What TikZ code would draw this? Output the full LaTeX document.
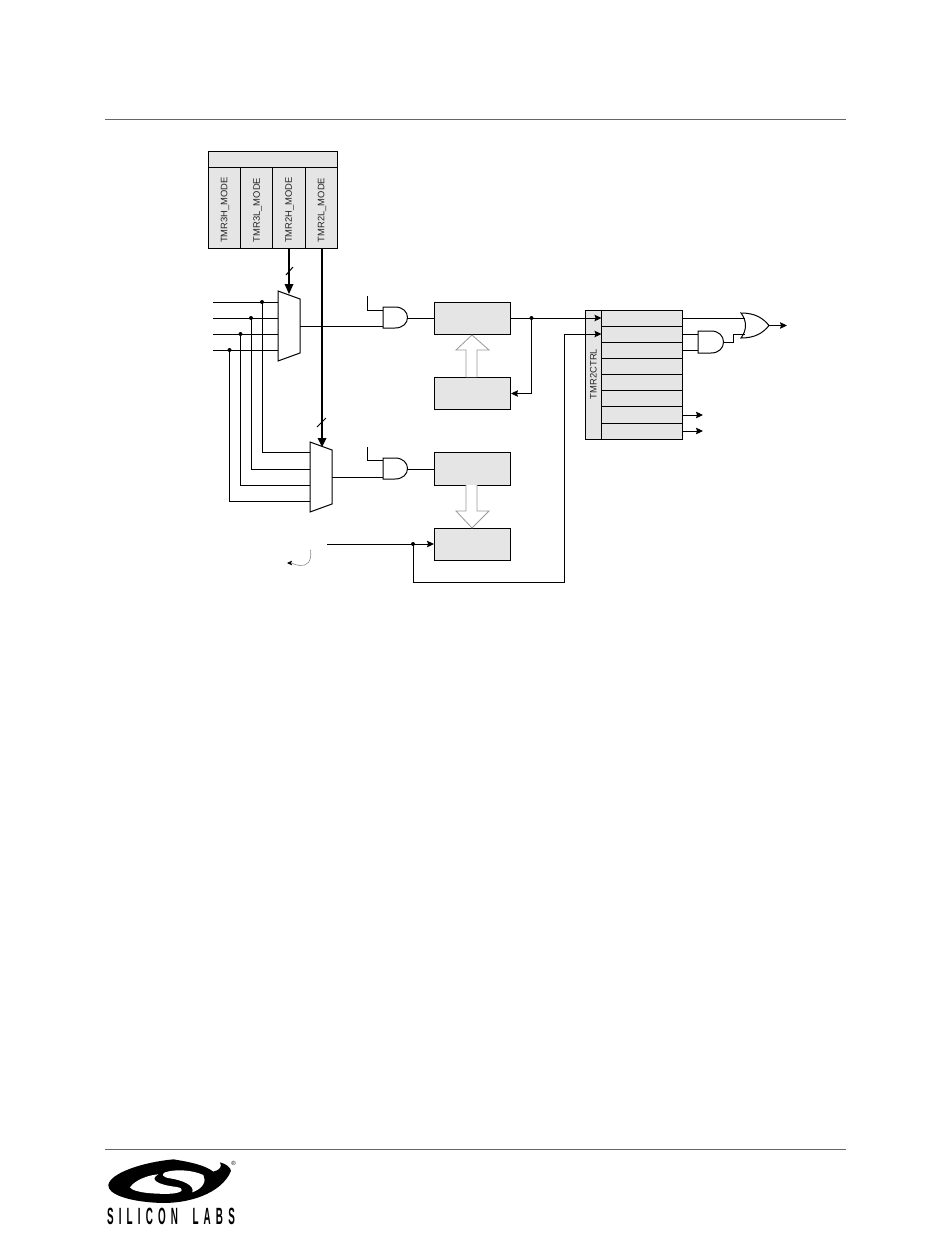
\documentclass[tikz,border=0pt]{standalone}
\usepackage{fontspec}
\setmainfont{Liberation Sans}
\usetikzlibrary{arrows.meta}
\tikzset{
  wire/.style={line width=1pt,draw=black},
  bus/.style={line width=2.2pt,draw=black},
  arr/.style={-{Stealth[length=7pt,width=6.5pt,inset=1pt]}},
  block/.style={draw=black,line width=1pt,fill=black!10},
  bnode/.style={block,minimum width=76pt,inner sep=0pt,anchor=north west},
  gatestyle/.style={draw=black,line width=1pt,fill=white},
  hollow/.style={draw=black!40,line width=0.8pt,fill=white},
  dotn/.style={circle,fill=black,inner sep=0pt,minimum size=4pt},
  vlabel/.style={rotate=90,font=\fontsize{9.4}{11}\selectfont,text=black!85,inner sep=0pt},
  rule/.style={draw=black!60,line width=0.8pt}
}
\begin{document}
\begin{tikzpicture}[x=1pt,y=-1pt]
\useasboundingbox (0,0) rectangle (950,1237);
\fill[white] (0,0) rectangle (950,1237);
% page rules
\draw[rule] (105,119) -- (846,119);
\draw[rule] (105,1149) -- (846,1149);
% mode register
\draw[block] (208,151) rectangle (337,248);
\draw[wire] (208,167) -- (337,167);
\foreach \xx in {240,272.5,305.5}{\draw[wire] (\xx,167) -- (\xx,248);}
\node[vlabel] (m3h) at (225,210) {TMR3H\_MODE};
\node[vlabel] (m3l) at (257.5,210) {TMR3L\_MODE};
\node[vlabel] (m2h) at (289.5,210) {TMR2H\_MODE};
\node[vlabel] (m2l) at (322,210) {TMR2L\_MODE};
% input wires
\coordinate (i1) at (213,302);\coordinate (i2) at (213,318);
\coordinate (i3) at (213,334);\coordinate (i4) at (213,350);
\coordinate (ma1) at (278,302);\coordinate (ma2) at (278,318);
\coordinate (ma3) at (278,334);\coordinate (ma4) at (278,350);
\coordinate (mb1) at (310,452);\coordinate (mb2) at (310,469);
\coordinate (mb3) at (310,485);\coordinate (mb4) at (310,501);
\draw[wire] (i1) -- (ma1);\draw[wire] (i2) -- (ma2);
\draw[wire] (i3) -- (ma3);\draw[wire] (i4) -- (ma4);
\node[dotn] (d1) at (262,302) {};\node[dotn] (d2) at (251,318) {};
\node[dotn] (d3) at (240.5,334) {};\node[dotn] (d4) at (229.5,350) {};
\draw[wire] (d1.center) |- (mb1);
\draw[wire] (d2.center) |- (mb2);
\draw[wire] (d3.center) |- (mb3);
\draw[wire] (d4.center) |- (mb4);
% muxes
\draw[gatestyle] (278,291) -- (300,299) -- (300,353) -- (278,361) -- cycle;
\draw[gatestyle] (310,442) -- (332,450) -- (332,504) -- (310,512) -- cycle;
\coordinate (maout) at (300,326);\coordinate (mbout) at (332,477);
% AND gates
\draw[gatestyle] (383,307) -- (395,307) .. controls (403,307) and (407.5,312) .. (407.5,317.5) .. controls (407.5,323) and (403,328) .. (395,328) -- (383,328) -- cycle;
\draw[gatestyle] (383,458) -- (395,458) .. controls (403,458) and (407.5,463) .. (407.5,468.5) .. controls (407.5,474) and (403,479) .. (395,479) -- (383,479) -- cycle;
\coordinate (g1a) at (383,310);\coordinate (g1b) at (383,326);\coordinate (g1o) at (407.5,318);
\coordinate (g2a) at (383,460.5);\coordinate (g2b) at (383,477);\coordinate (g2o) at (407.5,469);
\coordinate (g1f) at (367,296);\coordinate (g2f) at (367,447);
\draw[wire] (g1f) |- (g1a);
\draw[wire] (g2f) |- (g2a);
\draw[wire] (maout) -- (g1b);
\draw[wire] (mbout) -- (g2b);
% buses
\coordinate (mt) at (322,248);\coordinate (mh) at (289,248);
\draw[bus] (mh) -- (289,286);
\fill (284.5,284) -- (293.5,284) -- (289,294) -- cycle;
\draw[wire] (286,275) -- (293,267);
\draw[bus] (mt) -- (322,440);
\fill (317.5,438) -- (326.5,438) -- (322,447) -- cycle;
\draw[wire] (317,427) -- (326,418);
% blocks
\node[bnode,minimum height=32pt] (b1) at (434,302) {};
\node[bnode,minimum height=32pt] (b2) at (434,377) {};
\node[bnode,minimum height=33pt] (b3) at (434,452) {};
\node[bnode,minimum height=32pt] (b4) at (434,528) {};
\draw[wire] (g1o) -- (g1o -| b1.west);
\draw[wire] (g2o) -- (g2o -| b3.west);
% hollow arrows
\draw[hollow] (466,377) -- (466,350) -- (456,350) -- (472,335) -- (489,350) -- (477,350) -- (477,377);
\draw[hollow] (466,485) -- (466,511) -- (456,511) -- (472,528) -- (489,511) -- (477,511) -- (477,485);
% control register
\draw[block] (585,310) rectangle (682,439);
\draw[wire] (601,310) -- (601,439);
\foreach \yy in {326,342,358,374,390,406,423}{\draw[wire] (601,\yy) -- (682,\yy);}
\node[vlabel] (ctrl) at (593.5,374) {TMR2CTRL};
% wires around blocks
\coordinate (r1) at (601.5,318);\coordinate (r2) at (601.5,334);
\node[dotn] (d5) at (531.5,318) {};
\draw[wire,arr] (d5 -| b1.east) -- (r1);
\draw[wire,arr] (d5.center) |- (b2.east);
\node[dotn] (d6) at (413,544) {};
\coordinate (c1) at (327,544);
\draw[wire,arr] (c1) -- (d6 -| b4.west);
\draw[wire,arr] (d6.center) |- (564.5,582) |- (r2);
% curly arrow
\draw[draw=black!45,line width=0.6pt,-{Stealth[length=5pt,width=4.5pt,inset=1pt,color=black,fill=black]}] (310.5,550) .. controls (312,562) and (307,566) .. (300,565.5) .. controls (295,565) and (292,563) .. (287,563);
% gates on the right
\draw[gatestyle] (698,331) -- (711,331) .. controls (719,331) and (723.5,336) .. (723.5,342) .. controls (723.5,348) and (719,353) .. (711,353) -- (698,353) -- cycle;
\coordinate (g3a) at (698,334);\coordinate (g3b) at (698,350);\coordinate (g3o) at (723.5,342);
\coordinate (ra) at (682,334);\coordinate (rb) at (682,350);
\draw[wire] (ra) -- (g3a);
\draw[wire] (rb) -- (g3b);
\draw[gatestyle] (741,313) .. controls (755,313) and (763,318) .. (769,325.5) .. controls (763,333) and (755,338) .. (741,338) .. controls (747,330) and (747,321) .. (741,313) -- cycle;
\coordinate (g4a) at (744.5,318);\coordinate (g4b) at (744.5,334);\coordinate (g4o) at (769,325.5);
\coordinate (r0) at (682,318);
\draw[wire] (r0) -- (g4a);
\draw[wire] (g3o) -- (733,342) -- (733,334) -- (g4b);
\coordinate (o1) at (787,325.5);\coordinate (o2) at (703,415);\coordinate (o3) at (703,431);
\draw[wire,arr] (g4o) -- (o1);
\draw[wire,arr] (682,415) -- (o2);
\draw[wire,arr] (682,431) -- (o3);
% logo
\begin{scope}[shift={(105,1155)},x=0.3333pt,y=-0.3333pt]
\fill[black] (205,13) .. controls (110,22) and (15,55) .. (10,90) .. controls (8,118) and (70,138) .. (150,143) .. controls (250,150) and (350,115) .. (378,48) .. controls (378,37) and (360,25) .. (345,22) .. controls (352,35) and (345,45) .. (325,50) .. controls (300,30) and (250,20) .. (205,13) -- cycle;
\fill[white] (75,97) .. controls (90,75) and (130,60) .. (160,58) .. controls (135,72) and (150,88) .. (215,96) .. controls (240,100) and (235,113) .. (200,116) .. controls (150,118) and (85,113) .. (75,97) -- cycle;
\fill[white] (180,52) .. controls (210,42) and (260,44) .. (295,60) .. controls (305,78) and (295,100) .. (262,112) .. controls (270,90) and (230,75) .. (195,70) .. controls (170,66) and (170,57) .. (180,52) -- cycle;
\end{scope}
\node[inner sep=0pt,anchor=center] (logotext) at (171,1216.5) {\scalebox{0.42}[1]{\fontsize{23.5}{24}\selectfont\bfseries\addfontfeature{LetterSpace=52}SILICON\hspace{16pt} LABS}};
\node[inner sep=0pt,font=\fontsize{6}{7}\selectfont] (reg) at (233.5,1163) {\textregistered};
\end{tikzpicture}
\end{document}
